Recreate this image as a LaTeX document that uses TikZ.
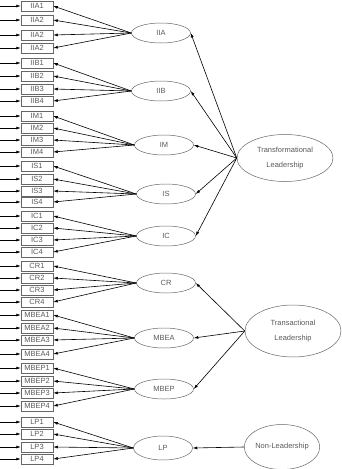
\documentclass[tikz,border=0pt]{standalone}
\usepackage{fontspec}
\setmainfont{Liberation Sans}
\usetikzlibrary{shapes.geometric,arrows.meta}
\definecolor{ln}{gray}{0.4}
\definecolor{txt}{gray}{0.35}
\begin{document}
\begin{tikzpicture}[x=1pt,y=-1pt,
  ind/.style={draw=ln, line width=0.5pt, minimum width=32pt, minimum height=10pt, inner sep=0pt, font=\fontsize{7.5}{9}\selectfont, text=txt},
  fac/.style={ellipse, draw=ln, line width=0.5pt, minimum width=59pt, minimum height=20pt, inner sep=0pt, font=\fontsize{7.5}{9}\selectfont, text=txt},
  big/.style={ellipse, draw=ln, line width=0.5pt, minimum width=96pt, minimum height=47pt, inner sep=0pt, align=center, font=\fontsize{7.5}{15}\selectfont, text=txt},
  arr/.style={-{Latex[length=4.5pt,width=3pt]}, line width=0.6pt, draw=black}
]
\useasboundingbox (0,0) rectangle (341,469);

% indicator boxes with input arrows
\foreach \n/\lab/\y in {1/IIA1/6, 2/IIA2/20, 3/IIA2/35, 4/IIA2/48,
  5/IIB1/63, 6/IIB2/76, 7/IIB3/89, 8/IIB4/101,
  9/IM1/116, 10/IM2/128, 11/IM3/140, 12/IM4/152,
  13/IS1/166, 14/IS2/179, 15/IS3/191, 16/IS4/202,
  17/IC1/216, 18/IC2/228, 19/IC3/240, 20/IC4/252,
  21/CR1/266, 22/CR2/278, 23/CR3/290, 24/CR4/302,
  25/MBEA1/315, 26/MBEA2/328, 27/MBEA3/340, 28/MBEA4/354,
  29/MBEP1/368, 30/MBEP2/381, 31/MBEP3/393, 32/MBEP4/406,
  33/LP1/422, 34/LP2/434, 35/LP3/447, 36/LP4/459}{
  \node[ind] (b\n) at (37,\y) {\lab};
  \coordinate (s\n) at (0,\y);
  \draw[arr] (s\n) -- (b\n.west);
}

% first-order factors
\node[fac] (IIA) at (161,33) {IIA};
\node[fac] (IIB) at (161,91) {IIB};
\node[fac] (IM) at (164,145) {IM};
\node[fac] (IS) at (166,194) {IS};
\node[fac] (IC) at (166,236) {IC};
\node[fac] (CR) at (166,283) {CR};
\node[fac] (MBEA) at (164,338) {MBEA};
\node[fac] (MBEP) at (164,389) {MBEP};
\node[fac, minimum height=24pt] (LP) at (163,448) {LP};

\foreach \f/\a/\b/\c/\d in {IIA/1/2/3/4, IIB/5/6/7/8, IM/9/10/11/12, IS/13/14/15/16,
  IC/17/18/19/20, CR/21/22/23/24, MBEA/25/26/27/28, MBEP/29/30/31/32, LP/33/34/35/36}{
  \foreach \k in {\a,\b,\c,\d}{
    \draw[arr] (\f.west) -- (b\k.east);
  }
}

% second-order factors
\node[big] (TL) at (285,158) {Transformational\\Leadership};
\node[big, minimum height=52pt] (TA) at (293,331) {Transactional\\Leadership};
\node[big, minimum width=73pt, minimum height=45pt, font=\fontsize{7.5}{9}\selectfont] (NL) at (282,447) {Non-Leadership};

\foreach \f in {IIA,IIB,IM,IS,IC}{
  \draw[arr] (TL.west) -- (\f.east);
}
\foreach \f in {CR,MBEA,MBEP}{
  \draw[arr] (TA.west) -- (\f.east);
}
\draw[arr] (NL.west) -- (LP.east);
\end{tikzpicture}
\end{document}
